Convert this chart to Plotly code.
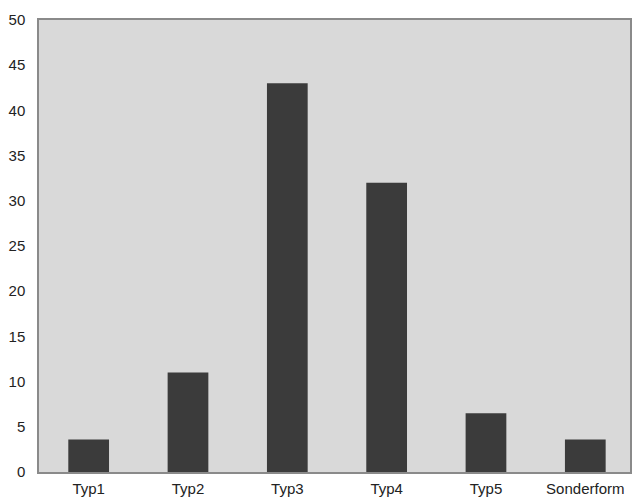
import plotly.graph_objects as go

categories = ["Typ1", "Typ2", "Typ3", "Typ4", "Typ5", "Sonderform"]
values = [3.6, 11, 43, 32, 6.5, 3.6]
y_ticks = [0, 5, 10, 15, 20, 25, 30, 35, 40, 45, 50]

fig = go.Figure(
    go.Bar(
        x=categories,
        y=values,
        width=0.41,
        marker=dict(color="#3b3b3b", line=dict(width=0)),
        hoverinfo="skip",
    )
)

fig.update_layout(
    width=632,
    height=497,
    margin=dict(l=39, r=0, t=20, b=25),
    paper_bgcolor="white",
    plot_bgcolor="#d9d9d9",
    showlegend=False,
    font=dict(family="Liberation Sans, Arial", size=15, color="#222222"),
)
fig.update_xaxes(
    range=[-0.5, 5.45],
    showgrid=False,
    showline=True,
    linecolor="#8a8a8a",
    linewidth=1.5,
    ticks="",
    ticklabelstandoff=2,
    mirror=True,
)
fig.update_yaxes(
    range=[0, 50],
    tickvals=y_ticks,
    showgrid=False,
    zeroline=False,
    showline=True,
    linecolor="#8a8a8a",
    linewidth=1.5,
    ticks="",
    ticklabelstandoff=9,
    mirror=True,
)

fig.write_html(
    "out.html",
    config={"displayModeBar": False},
    post_script="document.body.style.margin='0';document.body.style.overflow='hidden';",
)
